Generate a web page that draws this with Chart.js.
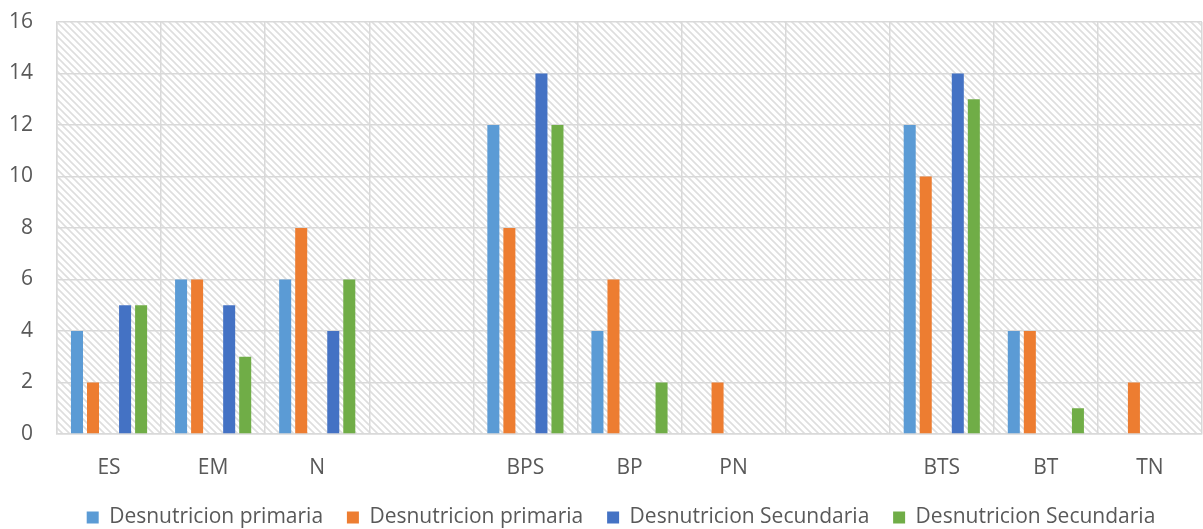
<!DOCTYPE html>
<html>
<head>
<meta charset="utf-8">
<script src="https://cdn.jsdelivr.net/npm/chart.js@4/dist/chart.umd.min.js"></script>
<style>
  html, body { margin: 0; padding: 0; background: #fff; }
  #wrap { width: 1203px; height: 529px; }
</style>
</head>
<body>
<div id="wrap"><canvas id="c" width="1203" height="529"></canvas></div>
<script>
  // categories (blank ones are the gaps between groups)
  const labels = ['ES', 'EM', 'N', '', 'BPS', 'BP', 'PN', '', 'BTS', 'BT', 'TN'];

  const primaria1   = [4, 6, 6, null, 12, 4, 0, null, 12, 4, 0];
  const primaria2   = [2, 6, 8, null, 8, 6, 2, null, 10, 4, 2];
  const emptySeries = [null, null, null, null, null, null, null, null, null, null, null];
  const secundaria1 = [5, 5, 4, null, 14, 0, 0, null, 14, 0, 0];
  const secundaria2 = [5, 3, 6, null, 12, 2, 0, null, 13, 1, 0];

  const yTicks = [0, 2, 4, 6, 8, 10, 12, 14, 16];

  const FONT = '"Open Sans", sans-serif';
  const TEXT = '#595959';
  const GRID = '#d9d9d9';

  // light diagonal hatch behind the plot
  function makeHatch() {
    const t = document.createElement('canvas');
    t.width = 7; t.height = 7;
    const g = t.getContext('2d');
    g.fillStyle = '#fff';
    g.fillRect(0, 0, 7, 7);
    g.strokeStyle = '#dedede';
    g.lineWidth = 1.6;
    g.beginPath();
    g.moveTo(-1, -1); g.lineTo(8, 8);
    g.moveTo(-8, -1); g.lineTo(1, 8);
    g.moveTo(6, -1); g.lineTo(15, 8);
    g.stroke();
    return g.createPattern(t, 'repeat');
  }

  const hatchPlugin = {
    id: 'hatch',
    afterLayout(chart) {
      // legend sits a bit lower and right of centre in the original
      if (chart.legend) {
        chart.legend.left += 40;
        chart.legend.top += 9;
      }
    },
    beforeDraw(chart) {
      const a = chart.chartArea;
      const ctx = chart.ctx;
      ctx.save();
      ctx.fillStyle = makeHatch();
      ctx.fillRect(a.left, a.top, a.right - a.left, a.bottom - a.top);
      ctx.restore();
    }
  };

  function ds(label, data, color) {
    return {
      label: label,
      data: data,
      backgroundColor: color,
      borderWidth: 0,
      barPercentage: 0.75,
      categoryPercentage: 0.77,
    };
  }

  new Chart(document.getElementById('c'), {
    type: 'bar',
    data: {
      labels: labels,
      datasets: [
        ds('Desnutricion primaria', primaria1, '#5b9bd5'),
        ds('Desnutricion primaria', primaria2, '#ed7d31'),
        ds('', emptySeries, 'rgba(0,0,0,0)'),
        ds('Desnutricion Secundaria', secundaria1, '#4472c4'),
        ds('Desnutricion Secundaria', secundaria2, '#70ad47'),
      ]
    },
    options: {
      responsive: false,
      animation: false,
      layout: { padding: { left: 0, right: 1, top: 8, bottom: 0 } },
      plugins: {
        tooltip: { enabled: false },
        legend: {
          position: 'bottom',
          labels: {
            boxWidth: 12,
            boxHeight: 12,
            padding: 2,
            color: TEXT,
            font: { family: FONT, size: 21 },
            // drop the empty spacer series, pad the gaps between entries
            generateLabels: (chart) => {
              const items = Chart.defaults.plugins.legend.labels.generateLabels(chart)
                .filter(it => it.text !== '');
              return items.map((it, i) => Object.assign(it, {
                text: i < items.length - 1 ? it.text + '    ' : it.text
              }));
            }
          }
        }
      },
      scales: {
        x: {
          afterFit: (axis) => { axis.height = 62; },
          grid: { color: GRID, lineWidth: 1.5, drawTicks: false },
          border: { color: GRID, width: 1.5 },
          ticks: { color: TEXT, font: { family: FONT, size: 21 }, padding: 21 },
        },
        y: {
          min: 0,
          max: 16,
          afterBuildTicks: (axis) => { axis.ticks = yTicks.map(v => ({ value: v })); },
          afterFit: (axis) => { axis.width = 57; axis.paddingTop = 22; },
          grid: { color: GRID, lineWidth: 1.5, drawTicks: false },
          border: { color: GRID, width: 1.5 },
          ticks: { color: TEXT, font: { family: FONT, size: 21 }, padding: 24 },
        }
      }
    },
    plugins: [hatchPlugin]
  });
</script>
</body>
</html>
